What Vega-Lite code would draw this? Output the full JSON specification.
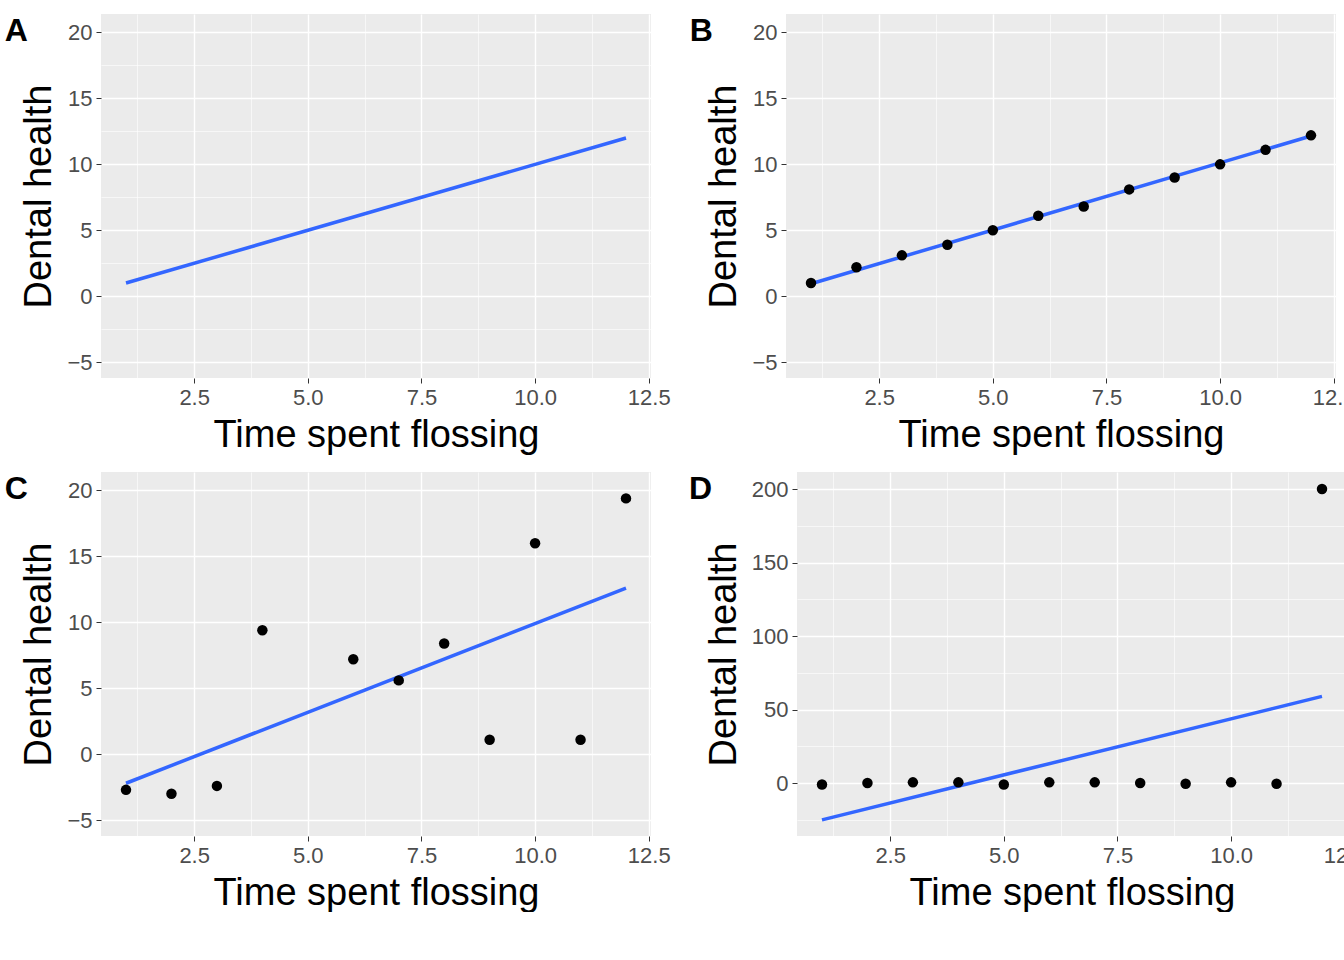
{
  "$schema": "https://vega.github.io/schema/vega-lite/v6.json",
  "background": "white",
  "padding": {"left": 4, "top": 14, "right": 0, "bottom": 0},
  "config": {
    "view": {"fill": "#EBEBEB", "stroke": null},
    "font": "Liberation Sans",
    "axis": {
      "domain": false, "gridColor": "white", "tickColor": "#333333",
      "labelColor": "#4D4D4D", "labelFontSize": 22, "titleFontSize": 38,
      "titleFontWeight": "normal", "titleColor": "black", "labelPadding": 4, "titlePadding": 8
    },
    "title": {"fontSize": 32, "fontWeight": "bold", "anchor": "end", "orient": "left", "angle": 0, "offset": -30, "baseline": "top", "dy": 2},
    "concat": {"spacing": 18}
  },
  "datasets": {
    "pts": [
      {"p": "B", "x": 1, "y": 1.0}, {"p": "B", "x": 2, "y": 2.2}, {"p": "B", "x": 3, "y": 3.1},
      {"p": "B", "x": 4, "y": 3.9}, {"p": "B", "x": 5, "y": 5.0}, {"p": "B", "x": 6, "y": 6.1},
      {"p": "B", "x": 7, "y": 6.8}, {"p": "B", "x": 8, "y": 8.1}, {"p": "B", "x": 9, "y": 9.0},
      {"p": "B", "x": 10, "y": 10.0}, {"p": "B", "x": 11, "y": 11.1}, {"p": "B", "x": 12, "y": 12.2},
      {"p": "C", "x": 1, "y": -2.7}, {"p": "C", "x": 2, "y": -3.0}, {"p": "C", "x": 3, "y": -2.4},
      {"p": "C", "x": 4, "y": 9.4}, {"p": "C", "x": 6, "y": 7.2}, {"p": "C", "x": 7, "y": 5.6},
      {"p": "C", "x": 8, "y": 8.4}, {"p": "C", "x": 9, "y": 1.1}, {"p": "C", "x": 10, "y": 16.0},
      {"p": "C", "x": 11, "y": 1.1}, {"p": "C", "x": 12, "y": 19.4},
      {"p": "D", "x": 1, "y": -1}, {"p": "D", "x": 2, "y": 0}, {"p": "D", "x": 3, "y": 0.5},
      {"p": "D", "x": 4, "y": 0.5}, {"p": "D", "x": 5, "y": -1}, {"p": "D", "x": 6, "y": 0.5},
      {"p": "D", "x": 7, "y": 0.5}, {"p": "D", "x": 8, "y": 0}, {"p": "D", "x": 9, "y": -0.5},
      {"p": "D", "x": 10, "y": 0.5}, {"p": "D", "x": 11, "y": -0.5}, {"p": "D", "x": 12, "y": 200}
    ],
    "fit": [
      {"p": "A", "x": 1, "y": 1}, {"p": "A", "x": 12, "y": 12},
      {"p": "B", "x": 1, "y": 0.95}, {"p": "B", "x": 12, "y": 12.15},
      {"p": "C", "x": 1, "y": -2.2}, {"p": "C", "x": 12, "y": 12.6},
      {"p": "D", "x": 1, "y": -25}, {"p": "D", "x": 12, "y": 59}
    ]
  },
  "vconcat": [
    {"hconcat": [
      {
        "width": 550, "height": 364,
        "title": {"text": "A"},
        "layer": [
          {"data": {"name": "fit"}, "transform": [{"filter": "datum.p == 'A'"}], "mark": {"type": "line", "color": "#3366FF", "strokeWidth": 3.5},
           "encoding": {
             "x": {"field": "x", "type": "quantitative", "scale": {"domain": [0.45, 12.55], "nice": false}, "title": "Time spent flossing",
               "axis": {"values": [1.25, 2.5, 3.75, 5, 6.25, 7.5, 8.75, 10, 11.25, 12.5], "labelExpr": "datum.value % 2.5 == 0 ? format(datum.value, '.1f') : ''", "gridWidth": {"condition": {"test": "datum.value % 2.5 == 0", "value": 1.4}, "value": 0.6}, "tickSize": {"condition": {"test": "datum.value % 2.5 == 0", "value": 5}, "value": 0}}},
             "y": {"field": "y", "type": "quantitative", "scale": {"domain": [-6.2, 21.4], "nice": false}, "title": "Dental health",
               "axis": {"values": [-5, -2.5, 0, 2.5, 5, 7.5, 10, 12.5, 15, 17.5, 20], "labelExpr": "datum.value % 5 == 0 ? format(datum.value, 'd') : ''", "gridWidth": {"condition": {"test": "datum.value % 5 == 0", "value": 1.4}, "value": 0.6}, "tickSize": {"condition": {"test": "datum.value % 5 == 0", "value": 5}, "value": 0}}}
           }}
        ]
      },
      {
        "width": 550, "height": 364,
        "title": {"text": "B"},
        "layer": [
          {"data": {"name": "fit"}, "transform": [{"filter": "datum.p == 'B'"}], "mark": {"type": "line", "color": "#3366FF", "strokeWidth": 3.5},
           "encoding": {
             "x": {"field": "x", "type": "quantitative", "scale": {"domain": [0.45, 12.55], "nice": false}, "title": "Time spent flossing",
               "axis": {"values": [1.25, 2.5, 3.75, 5, 6.25, 7.5, 8.75, 10, 11.25, 12.5], "labelExpr": "datum.value % 2.5 == 0 ? format(datum.value, '.1f') : ''", "gridWidth": {"condition": {"test": "datum.value % 2.5 == 0", "value": 1.4}, "value": 0.6}, "tickSize": {"condition": {"test": "datum.value % 2.5 == 0", "value": 5}, "value": 0}}},
             "y": {"field": "y", "type": "quantitative", "scale": {"domain": [-6.2, 21.4], "nice": false}, "title": "Dental health",
               "axis": {"values": [-5, -2.5, 0, 2.5, 5, 7.5, 10, 12.5, 15, 17.5, 20], "labelExpr": "datum.value % 5 == 0 ? format(datum.value, 'd') : ''", "gridWidth": {"condition": {"test": "datum.value % 5 == 0", "value": 1.4}, "value": 0.6}, "tickSize": {"condition": {"test": "datum.value % 5 == 0", "value": 5}, "value": 0}}}
           }},
          {"data": {"name": "pts"}, "transform": [{"filter": "datum.p == 'B'"}], "mark": {"type": "circle", "color": "black", "size": 110, "opacity": 1},
           "encoding": {"x": {"field": "x", "type": "quantitative"}, "y": {"field": "y", "type": "quantitative"}}}
        ]
      }
    ]},
    {"hconcat": [
      {
        "width": 550, "height": 364,
        "title": {"text": "C"},
        "layer": [
          {"data": {"name": "fit"}, "transform": [{"filter": "datum.p == 'C'"}], "mark": {"type": "line", "color": "#3366FF", "strokeWidth": 3.5},
           "encoding": {
             "x": {"field": "x", "type": "quantitative", "scale": {"domain": [0.45, 12.55], "nice": false}, "title": "Time spent flossing",
               "axis": {"values": [1.25, 2.5, 3.75, 5, 6.25, 7.5, 8.75, 10, 11.25, 12.5], "labelExpr": "datum.value % 2.5 == 0 ? format(datum.value, '.1f') : ''", "gridWidth": {"condition": {"test": "datum.value % 2.5 == 0", "value": 1.4}, "value": 0.6}, "tickSize": {"condition": {"test": "datum.value % 2.5 == 0", "value": 5}, "value": 0}}},
             "y": {"field": "y", "type": "quantitative", "scale": {"domain": [-6.2, 21.4], "nice": false}, "title": "Dental health",
               "axis": {"values": [-5, -2.5, 0, 2.5, 5, 7.5, 10, 12.5, 15, 17.5, 20], "labelExpr": "datum.value % 5 == 0 ? format(datum.value, 'd') : ''", "gridWidth": {"condition": {"test": "datum.value % 5 == 0", "value": 1.4}, "value": 0.6}, "tickSize": {"condition": {"test": "datum.value % 5 == 0", "value": 5}, "value": 0}}}
           }},
          {"data": {"name": "pts"}, "transform": [{"filter": "datum.p == 'C'"}], "mark": {"type": "circle", "color": "black", "size": 110, "opacity": 1},
           "encoding": {"x": {"field": "x", "type": "quantitative"}, "y": {"field": "y", "type": "quantitative"}}}
        ]
      },
      {
        "width": 550, "height": 364,
        "title": {"text": "D"},
        "layer": [
          {"data": {"name": "fit"}, "transform": [{"filter": "datum.p == 'D'"}], "mark": {"type": "line", "color": "#3366FF", "strokeWidth": 3.5},
           "encoding": {
             "x": {"field": "x", "type": "quantitative", "scale": {"domain": [0.45, 12.55], "nice": false}, "title": "Time spent flossing",
               "axis": {"values": [1.25, 2.5, 3.75, 5, 6.25, 7.5, 8.75, 10, 11.25, 12.5], "labelExpr": "datum.value % 2.5 == 0 ? format(datum.value, '.1f') : ''", "gridWidth": {"condition": {"test": "datum.value % 2.5 == 0", "value": 1.4}, "value": 0.6}, "tickSize": {"condition": {"test": "datum.value % 2.5 == 0", "value": 5}, "value": 0}}},
             "y": {"field": "y", "type": "quantitative", "scale": {"domain": [-36, 211.6], "nice": false}, "title": "Dental health",
               "axis": {"values": [-25, 0, 25, 50, 75, 100, 125, 150, 175, 200], "labelExpr": "datum.value % 50 == 0 ? format(datum.value, 'd') : ''", "gridWidth": {"condition": {"test": "datum.value % 50 == 0", "value": 1.4}, "value": 0.6}, "tickSize": {"condition": {"test": "datum.value % 50 == 0", "value": 5}, "value": 0}}}
           }},
          {"data": {"name": "pts"}, "transform": [{"filter": "datum.p == 'D'"}], "mark": {"type": "circle", "color": "black", "size": 110, "opacity": 1},
           "encoding": {"x": {"field": "x", "type": "quantitative"}, "y": {"field": "y", "type": "quantitative"}}}
        ]
      }
    ]}
  ]
}
